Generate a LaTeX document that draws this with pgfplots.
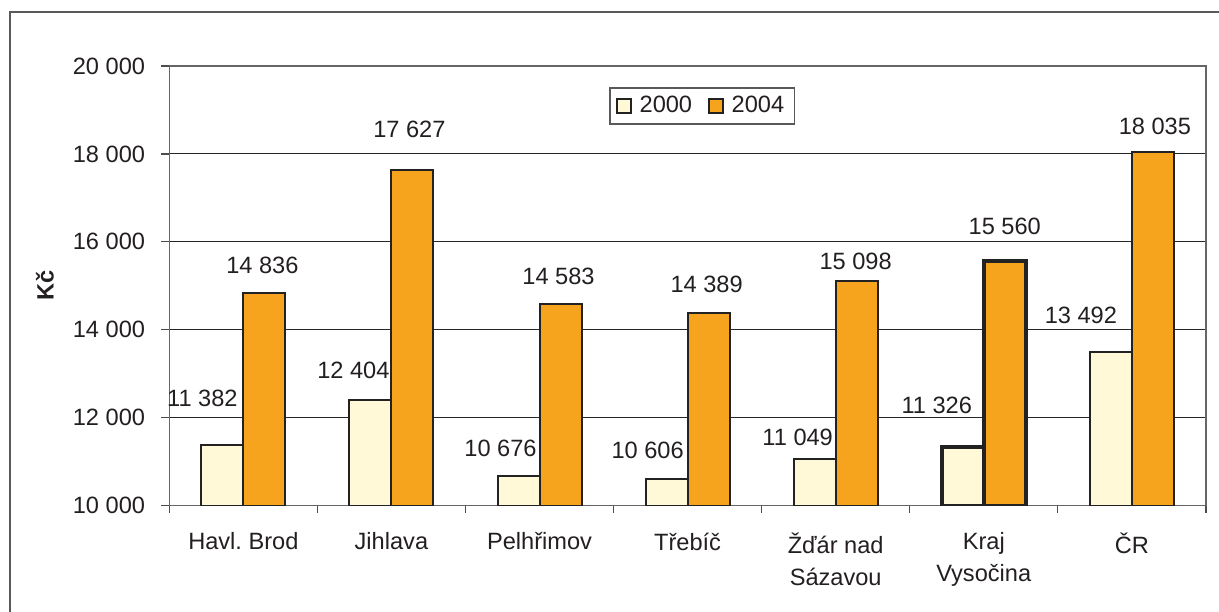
\documentclass[border=0pt]{standalone}
\usepackage{fontspec}
\setmainfont{Liberation Sans}
\usepackage{pgfplots}
\pgfplotsset{compat=1.18}
\pgfplotsset{/pgf/number format/assume math mode=true}

\definecolor{c2000}{HTML}{FFF9D7}
\definecolor{c2004}{HTML}{F6A31E}
\definecolor{barline}{HTML}{222222}
\definecolor{txt}{HTML}{231F20}

% value label: bar shift, x, value, offset of label centre from bar top (px)
\newcommand\vlab[5]{%
  \addplot[draw=none, fill=none, forget plot, bar shift=#1, nodes near coords,
    every node near coord/.append style={anchor=center, xshift=#4*0.5bp, yshift=#5*0.5bp, text=txt}]
    coordinates {(#2,#3)};}

\begin{document}
\fontsize{11.8bp}{16bp}\selectfont
\color{txt}
\begin{tikzpicture}
\useasboundingbox (0,0) rectangle (609.5bp,-306bp);
\draw[draw=black!65, line width=0.7bp] (5bp,-6bp) rectangle (640bp,-340bp);
\node[rotate=90, font=\bfseries] at (22.5bp,-142.5bp) {Kč};
\begin{axis}[
  at={(84.65bp,-252.75bp)}, anchor=south west,
  scale only axis, width=518.3bp, height=219.75bp,
  ybar, bar width=21bp,
  ymin=10000, ymax=20000, ytick={10000,12000,...,20000},
  scaled y ticks=false,
  xmin=-0.5, xmax=6.5,
  xtick={0,...,6},
  xticklabels={Havl.\ Brod, Jihlava, Pelhřimov, Třebíč, {Žďár nad\\Sázavou}, {Kraj\\Vysočina}, ČR},
  minor xtick={-0.5,0.5,...,6.5},
  major x tick style={draw=none},
  minor x tick style={draw=black!70, line width=0.6bp},
  major y tick style={draw=black!70, line width=0.6bp},
  tick align=outside, tick pos=left,
  major tick length=4bp, minor tick length=3.5bp,
  ymajorgrids, grid style={draw=black!85, line width=0.5bp},
  axis line style={draw=black!60, line width=0.8bp},
  xticklabel style={align=center, anchor=north, yshift=-5.5bp},
  yticklabel style={anchor=east, xshift=-4bp,
    /pgf/number format/fixed, /pgf/number format/precision=0},
  /pgf/number format/1000 sep={\ },
  legend style={at={(0.514,0.909)}, anchor=center, draw=black!65, line width=0.6bp,
    inner xsep=3bp, inner ysep=2bp,
    /tikz/every odd column/.append style={column sep=2bp},
    /tikz/every even column/.append style={column sep=6bp}},
  legend columns=2,
  legend image code/.code={\draw[#1, line width=0.8bp] (0bp,-3.5bp) rectangle (7bp,3.5bp);},
]
\addplot[fill=c2000, draw=barline, line width=1bp, bar shift=-10.5bp] coordinates {
  (0,11382) (1,12404) (2,10676) (3,10606) (4,11049) (5,11326) (6,13492)};
\addlegendentry{2000}
\addplot[fill=c2004, draw=barline, line width=1bp, bar shift=10.5bp] coordinates {
  (0,14836) (1,17627) (2,14583) (3,14389) (4,15098) (5,15560) (6,18035)};
\addlegendentry{2004}
% Kraj Vysocina highlighted
\addplot[fill=c2000, draw=barline, line width=1.8bp, bar shift=-10.5bp, forget plot]
  coordinates {(5,11326)};
\addplot[fill=c2004, draw=barline, line width=1.8bp, bar shift=10.5bp, forget plot]
  coordinates {(5,15560)};
% value labels
\vlab{-10.5bp}{0}{11382}{-20}{46}
\vlab{-10.5bp}{1}{12404}{-17}{29}
\vlab{-10.5bp}{2}{10676}{-18}{27}
\vlab{-10.5bp}{3}{10606}{-19}{28}
\vlab{-10.5bp}{4}{11049}{-17}{22}
\vlab{-10.5bp}{5}{11326}{-26}{42}
\vlab{-10.5bp}{6}{13492}{-30}{37}
\vlab{10.5bp}{0}{14836}{-2}{28}
\vlab{10.5bp}{1}{17627}{-3}{41}
\vlab{10.5bp}{2}{14583}{-2}{28}
\vlab{10.5bp}{3}{14389}{-2}{28}
\vlab{10.5bp}{4}{15098}{-1}{20}
\vlab{10.5bp}{5}{15560}{0}{35}
\vlab{10.5bp}{6}{18035}{2}{26}
\end{axis}
\end{tikzpicture}
\end{document}
